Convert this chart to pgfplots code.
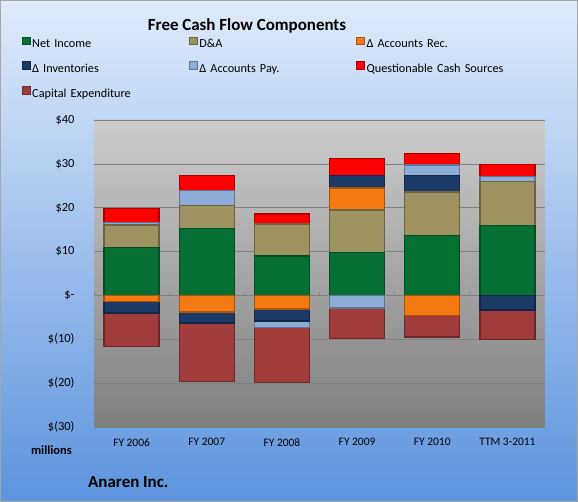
\documentclass[border=0pt]{standalone}
\usepackage{fontspec}
\setmainfont{Carlito}
\usepackage{pgfplots}
\pgfplotsset{compat=1.18}
\usepackage{pgfplotstable}

\definecolor{cNI}{RGB}{6,112,52}
\definecolor{cDA}{RGB}{158,146,96}
\definecolor{cAR}{RGB}{245,122,18}
\definecolor{cINV}{RGB}{28,58,102}
\definecolor{cAP}{RGB}{141,172,216}
\definecolor{cQCS}{RGB}{255,0,0}
\definecolor{cCAP}{RGB}{161,60,60}
\definecolor{bgTop}{RGB}{224,235,251}
\definecolor{bgMid}{RGB}{196,216,244}
\definecolor{bgBot}{RGB}{92,148,222}
\definecolor{plotTop}{RGB}{204,204,204}
\definecolor{plotBot}{RGB}{127,127,127}

% Free cash flow components, $ millions (negative = use of cash)
\pgfplotstableread{
x  ni    da    ar    inv   ap    qcs  capex
0  10.9  5.2  -1.4  -2.6   0.5  3.2  -7.6
1  15.2  5.3  -3.8  -2.5   3.4  3.4  -13.3
2   9.0  7.3  -3.1  -2.7  -1.5  2.3  -12.5
3   9.8  9.7   5.0   2.8  -2.9  3.9  -6.9
4  13.6 10.0  -4.6   3.8   2.3  2.6  -4.9
5  15.9 10.1   0.0  -3.3   1.1  2.8  -6.8
}\fcf

\pgfplotsset{
  fcf base/.style={
    scale only axis, width=451bp, height=307bp,
    xmin=-0.5, xmax=5.5, ymin=-30, ymax=40,
    ybar stacked, bar width=55bp,
  },
  seg/.style={fill=#1, draw=#1!68!black, line width=1.4bp},
}

\begin{document}
\begin{tikzpicture}
\shade[top color=bgTop, middle color=bgMid, bottom color=bgBot] (0,0) rectangle (578bp,502bp);
\draw[black!35, line width=0.8bp] (0.4bp,0.4bp) rectangle (577.6bp,501.6bp);

% positive contributions, with frame, grid and legend
\begin{axis}[fcf base, at={(94bp,75bp)}, anchor=south west,
  axis background/.style={shade, top color=plotTop, middle color=plotTop, bottom color=plotBot},
  axis line style={draw=none},
  tick style={draw=none},
  ymajorgrids, major grid style={draw=black!50, line width=0.7bp},
  ytick={-30,-20,...,40},
  yticklabels={\$(30),\$(20),\$(10),\$-,\$10,\$20,\$30,\$40},
  xtick={0,...,5},
  xticklabels={FY 2006,FY 2007,FY 2008,FY 2009,FY 2010,TTM 3-2011},
  yticklabel style={font=\fontsize{12.5}{14}\selectfont, xshift=-16bp},
  xticklabel style={font=\fontsize{11.5}{13}\selectfont, yshift=-8bp},
  legend columns=3,
  legend cell align=left,
  legend image code/.code={\draw[#1, line width=0.7bp] (0bp,0bp) rectangle (7.5bp,7.5bp);},
  legend style={draw=none, fill=none, inner sep=0pt,
    at={(axis description cs:-0.16,1.272)}, anchor=north west,
    font=\fontsize{12.3}{14}\selectfont, row sep=10bp,
    /tikz/column 2/.append style={text width=155bp},
    /tikz/column 4/.append style={text width=155bp},
    /tikz/column 6/.append style={text width=150bp}},
]
\draw[black!50, line width=0.7bp] (axis cs:-0.5,0) -- (axis cs:5.5,0);
\pgfplotsinvokeforeach{-0.5,0.5,1.5,2.5,3.5,4.5,5.5}{
  \draw[black!50, line width=0.7bp] (axis cs:#1,0) -- ([yshift=3bp]axis cs:#1,0);
}
\addplot[seg=cNI]  table[x=x, y=ni] \fcf;
\addlegendentry{Net Income}
\addplot[seg=cDA]  table[x=x, y=da] \fcf;
\addlegendentry{D\&A}
\addplot[seg=cAR]  table[x=x, y expr={max(\thisrow{ar},0)}] \fcf;
\addlegendentry{Δ Accounts Rec.}
\addplot[seg=cINV] table[x=x, y expr={max(\thisrow{inv},0)}] \fcf;
\addlegendentry{Δ Inventories}
\addplot[seg=cAP]  table[x=x, y expr={max(\thisrow{ap},0)}] \fcf;
\addlegendentry{Δ Accounts Pay.}
\addplot[seg=cQCS] table[x=x, y=qcs] \fcf;
\addlegendentry{Questionable Cash Sources}
\addlegendimage{seg=cCAP}
\addlegendentry{Capital Expenditure}
\end{axis}

% negative contributions, stacked downward from zero
\begin{axis}[fcf base, at={(94bp,75bp)}, anchor=south west, hide axis]
\addplot[seg=cAR]  table[x=x, y expr={min(\thisrow{ar},0)}] \fcf;
\addplot[seg=cINV] table[x=x, y expr={min(\thisrow{inv},0)}] \fcf;
\addplot[seg=cAP]  table[x=x, y expr={min(\thisrow{ap},0)}] \fcf;
\addplot[seg=cCAP] table[x=x, y=capex] \fcf;
\end{axis}

\node[font=\fontsize{17}{20}\selectfont\bfseries, anchor=base] at (247bp,471bp) {Free Cash Flow Components};
\node[font=\fontsize{12.5}{14}\selectfont\bfseries, anchor=base east, inner sep=0pt] at (72bp,47bp) {millions};
\node[font=\fontsize{17}{20}\selectfont\bfseries, anchor=base west, inner sep=0pt] at (88bp,15bp) {Anaren Inc.};
\end{tikzpicture}
\end{document}
